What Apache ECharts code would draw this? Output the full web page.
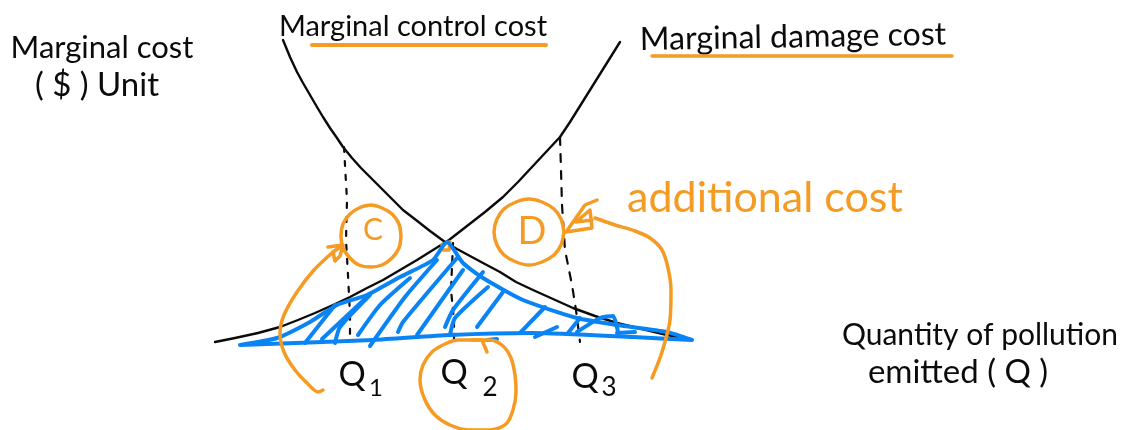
<!DOCTYPE html>
<html>
<head>
<meta charset="utf-8">
<style>
  html, body { margin: 0; padding: 0; background: #fff; }
  #chart { width: 1126px; height: 430px; }
</style>
<script src="https://cdn.jsdelivr.net/npm/echarts@6/dist/echarts.min.js"></script>
</head>
<body>
<div id="chart"></div>
<script>
// sketch has no real scale, the values are read off the picture as [x, y]
const controlCost = [[283,40],[290,57],[297,72],[303,83],[310,95],[317,107],[323,117],[330,128],[337,138],[343,147],[352,158],[361,168],[370,177],[381,188],[392,199],[403,210],[416,220],[430,231],[445,242],[457,249],[470,256],[483,263],[500,272],[516,282],[533,290],[553,299],[573,308],[595,316],[617,323],[642,329],[667,335],[690,339]];
const damageCost = [[215,342],[235,338],[258,333],[280,327],[298,320],[315,313],[333,305],[350,297],[367,288],[383,280],[400,270],[417,260],[433,250],[449,240],[467,226],[485,212],[503,197],[518,182],[532,167],[546,152],[560,137],[570,122],[580,106],[590,90],[600,74],[610,58],[620,42]];

const dropQ1 = [[344,147],[345,165],[347,200],[346,240],[348,275],[350,315],[350,340]];
const dropQ2 = [[453,243],[451,290],[454,320],[454,340]];
const dropQ3 = [[560,137],[561,170],[562,205],[565,250],[572,285],[576,310],[580,342]];

const underlineControl = [[312,45],[546,45]];
const underlineDamage = [[652,56],[952,56]];
const circleC = [[401,236],[399,248],[392,258],[382,265],[371,267],[359,265],[350,258],[343,248],[341,236],[343,224],[350,214],[359,208],[371,205],[382,208],[392,214],[399,224],[401,236]];
const circleD = [[564,232],[561,245],[554,255],[542,262],[529,265],[516,262],[504,255],[497,245],[494,232],[497,219],[504,209],[516,202],[529,199],[542,202],[554,209],[561,219],[564,232]];
const circleQ2 = [[472,340],[490,340],[503,346],[511,358],[515,375],[516,392],[513,410],[506,424],[490,430],[470,430],[450,425],[435,415],[425,400],[420,380],[423,365],[432,352],[445,344],[458,340],[472,340]];
const tickQ2 = [[472,340],[482,340],[487,352]];
const arrowC = [[323,390],[318,392],[308,384],[295,370],[284,352],[280,333],[284,315],[297,292],[314,270],[333,252]];
const arrowHeadC = [[328,247],[343,245],[340,256],[335,261],[333,252],[343,245]];
const arrowD = [[652,378],[662,352],[670,320],[671,290],[668,268],[662,250],[650,238],[635,231],[615,225],[595,218]];
const arrowHeadD = [[597,200],[585,205],[566,232],[592,228],[590,210],[576,222],[592,220]];
const centerDot = [[442,245],[450,242],[449,250],[443,250]];

const shadeOutline = [[240,345],[277,338],[310,322],[337,305],[367,295],[400,277],[433,260],[447,242],[463,263],[483,278],[523,300],[577,318],[617,325],[667,332],[692,340],[633,337],[533,333],[450,335],[373,340],[240,345]];
const hatches = [
  [[305,343],[335,305]],
  [[322,339],[367,297]],
  [[335,343],[340,327],[370,295]],
  [[358,335],[380,305],[410,278]],
  [[370,346],[405,297],[437,260]],
  [[398,332],[403,322],[457,258]],
  [[417,335],[463,270]],
  [[445,327],[453,310],[483,272]],
  [[450,335],[455,318],[488,287]],
  [[477,327],[503,292]],
  [[487,340],[497,339]],
  [[520,333],[545,307]],
  [[535,337],[557,327]],
  [[568,333],[580,318]],
  [[577,332],[600,318],[613,316],[618,332]],
  [[617,333],[635,332]]
];

const BLACK = "#0b0b0b";
const ORANGE = "#f59b23";
const BLUE = "#0a84f5";

function stroke(points, color, width, smooth, dash) {
  return {
    type: "line",
    data: points,
    symbol: "none",
    smooth: smooth,
    silent: true,
    lineStyle: { color: color, width: width, type: dash || "solid", cap: "round", join: "round" }
  };
}

// one text at one point, drawn as the label of an invisible point
function label(text, point, color, size, rotate) {
  return {
    type: "scatter",
    symbolSize: 0,
    silent: true,
    itemStyle: { opacity: 1 },
    data: [{ value: point, name: text }],
    label: {
      show: true,
      position: "inside",
      formatter: "{b}",
      color: color,
      opacity: 1,
      fontFamily: "Lato",
      fontSize: size,
      rotate: rotate || 0
    }
  };
}

const chart = echarts.init(document.getElementById("chart"));
chart.setOption({
  animation: false,
  backgroundColor: "#fff",
  grid: { left: 0, right: 0, top: 0, bottom: 0 },
  xAxis: { type: "value", min: 0, max: 1126, show: false },
  yAxis: { type: "value", min: 0, max: 430, inverse: true, show: false },
  series: [
    stroke(dropQ1, BLACK, 2.2, 0, [5, 9]),
    stroke(dropQ2, BLACK, 2.2, 0, [6, 7]),
    stroke(dropQ3, BLACK, 2.2, 0, [8, 9]),
    stroke(controlCost, BLACK, 2.4, 0),
    stroke(damageCost, BLACK, 2.4, 0),
    stroke(centerDot, ORANGE, 3.5, 0),
    stroke(shadeOutline, BLUE, 4, 0.2)
  ].concat(hatches.map(h => stroke(h, BLUE, 4, 0.2)), [
    stroke(underlineControl, ORANGE, 4, 0),
    stroke(underlineDamage, ORANGE, 3.5, 0),
    stroke(circleC, ORANGE, 3.5, 0.3),
    stroke(circleD, ORANGE, 3.5, 0.3),
    stroke(circleQ2, ORANGE, 3.5, 0.3),
    stroke(tickQ2, ORANGE, 3.5, 0),
    stroke(arrowC, ORANGE, 3.5, 0.3),
    stroke(arrowHeadC, ORANGE, 3.5, 0),
    stroke(arrowD, ORANGE, 3.5, 0.3),
    stroke(arrowHeadD, ORANGE, 3.5, 0),
    label("Marginal cost", [102,48], BLACK, 31),
    label("( $ ) Unit", [97,85], BLACK, 33),
    label("Marginal control cost", [413,27], BLACK, 29),
    label("Marginal damage cost", [793,37], BLACK, 32, 1),
    label("Quantity of pollution", [980,335], BLACK, 30),
    label("emitted ( Q )", [958,372], BLACK, 33),
    label("Q", [352,375], BLACK, 34),
    label("1", [376,388], BLACK, 24),
    label("Q", [454,373], BLACK, 34),
    label("2", [490,388], BLACK, 26),
    label("Q", [585,377], BLACK, 34),
    label("3", [609,388], BLACK, 26),
    label("additional cost", [765,198], ORANGE, 43),
    label("C", [373,230], ORANGE, 30),
    label("D", [532,232], ORANGE, 38)
  ])
});
</script>
</body>
</html>
